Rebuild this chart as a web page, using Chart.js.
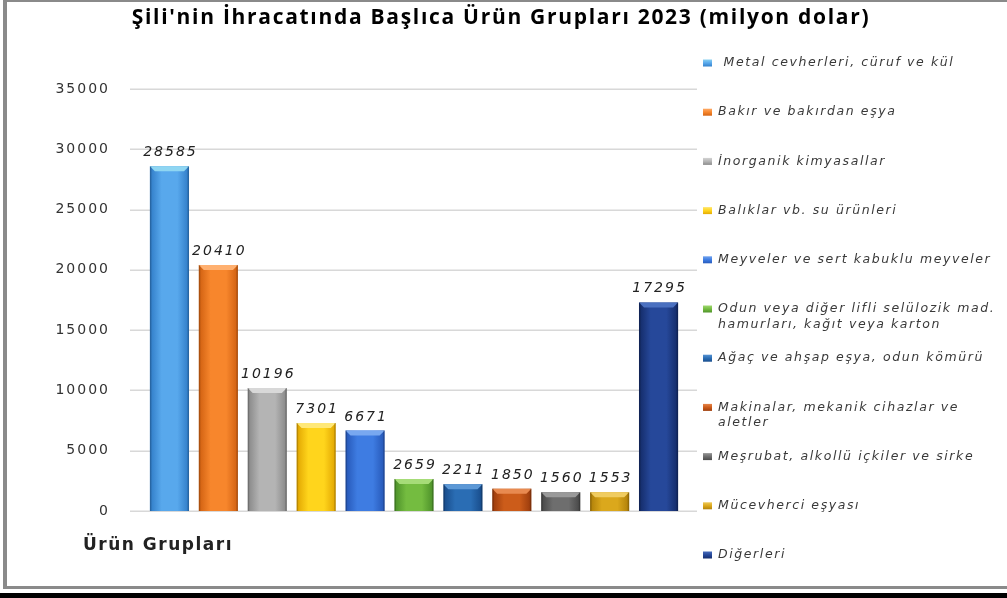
<!DOCTYPE html>
<html lang="tr">
<head>
<meta charset="utf-8">
<script src="https://cdn.jsdelivr.net/npm/chart.js@4.4.1/dist/chart.umd.min.js"></script>
<style>
  html, body { margin: 0; padding: 0; background: #fff; overflow: hidden; }
  #wrap { position: relative; width: 1007px; height: 598px; overflow: hidden; background: #fff; }
  .edge { position: absolute; background: #8a8a8a; }
  #edgeTop { left: 3px; top: 0; width: 1004px; height: 2px; }
  #edgeLeft { left: 3px; top: 0; width: 4px; height: 589px; }
  #edgeBottom { left: 3px; top: 586px; width: 1004px; height: 3px; }
  #blackbar { position: absolute; left: 0; top: 593px; width: 1007px; height: 5px; background: #000; }
  #chart { position: absolute; left: 0; top: 0; }
</style>
</head>
<body>
<div id="wrap">
  <div class="edge" id="edgeTop"></div>
  <div class="edge" id="edgeLeft"></div>
  <div class="edge" id="edgeBottom"></div>
  <div id="blackbar"></div>
  <canvas id="chart" width="1007" height="598"></canvas>
</div>
<script>
const titleText = "Şili'nin İhracatında Başlıca Ürün Grupları 2023 (milyon dolar)";
const xAxisTitle = 'Ürün Grupları';

const categories = [
  ' Metal cevherleri, cüruf ve kül',
  'Bakır ve bakırdan eşya',
  'İnorganik kimyasallar',
  'Balıklar vb. su ürünleri',
  'Meyveler ve sert kabuklu meyveler',
  ['Odun veya diğer lifli selülozik mad.', 'hamurları, kağıt veya karton'],
  'Ağaç ve ahşap eşya, odun kömürü',
  ['Makinalar, mekanik cihazlar ve', 'aletler'],
  'Meşrubat, alkollü içkiler ve sirke',
  'Mücevherci eşyası',
  'Diğerleri'
];

const values = [28585, 20410, 10196, 7301, 6671, 2659, 2211, 1850, 1560, 1553, 17295];

// centre / edge / top highlight
const barCenter = ['#58a8ec', '#f7862c', '#b4b4b4', '#ffd51c', '#3e7ce2', '#74bc40', '#2a6db4', '#cc5c1a', '#6e6e6e', '#dba81c', '#26489a'];
const barEdge = ['#2f7bc6', '#cf5f10', '#868686', '#e0a400', '#2556b6', '#4a8e28', '#174a88', '#983a0c', '#464646', '#ae7e08', '#132a66'];
const barTop = ['#8fd6f2', '#ffb070', '#d8d8d8', '#ffe878', '#78a8f0', '#a6dc78', '#5c98d6', '#e88a50', '#9a9a9a', '#f0cc60', '#4a70c0'];

const yMax = 35000;
const yStep = 5000;
const barPct = 0.8;

function barGradient(ctx) {
  const i = ctx.dataIndex;
  const chart = ctx.chart;
  const xs = chart.scales.x;
  if (!xs || !chart.chartArea) return barCenter[i];
  const cx = xs.getPixelForValue(i);
  const half = (xs.width / categories.length) * barPct / 2;
  if (!Number.isFinite(cx) || !Number.isFinite(half)) return barCenter[i];
  const g = chart.ctx.createLinearGradient(cx - half, 0, cx + half, 0);
  g.addColorStop(0, barEdge[i]);
  g.addColorStop(0.3, barCenter[i]);
  g.addColorStop(0.7, barCenter[i]);
  g.addColorStop(1, barEdge[i]);
  return g;
}

// light gridlines that reach a bit past the plot on both sides
const gridPlugin = {
  id: 'extGrid',
  beforeDraw(chart) {
    chart.ctx.letterSpacing = '2px';
  },
  beforeDatasetsDraw(chart) {
    const { ctx, chartArea, scales: { y } } = chart;
    ctx.letterSpacing = '0px';
    ctx.save();
    ctx.strokeStyle = '#d8d8d8';
    ctx.lineWidth = 1.5;
    y.ticks.forEach(t => {
      const py = Math.round(y.getPixelForValue(t.value)) + 0.25;
      ctx.beginPath();
      ctx.moveTo(chartArea.left - 15, py);
      ctx.lineTo(chartArea.right + 14, py);
      ctx.stroke();
    });
    ctx.restore();
  }
};

// bevel on top of each bar + value labels
const barDecorPlugin = {
  id: 'barDecor',
  afterDatasetsDraw(chart) {
    const { ctx } = chart;
    const meta = chart.getDatasetMeta(0);
    ctx.save();
    meta.data.forEach((el, i) => {
      const l = el.x - el.width / 2;
      const r = el.x + el.width / 2;
      const t = el.y;
      ctx.fillStyle = barTop[i];
      ctx.beginPath();
      ctx.moveTo(l, t);
      ctx.lineTo(r, t);
      ctx.lineTo(r - 5, t + 5);
      ctx.lineTo(l + 5, t + 5);
      ctx.closePath();
      ctx.fill();
      ctx.fillStyle = 'rgba(0,0,0,0.18)';
      ctx.fillRect(l, t, 1.5, el.base - t);
      ctx.fillRect(r - 1.5, t, 1.5, el.base - t);
    });
    ctx.letterSpacing = '2px';
    ctx.font = 'italic 14px "DejaVu Sans"';
    ctx.fillStyle = '#222';
    ctx.textAlign = 'center';
    ctx.textBaseline = 'alphabetic';
    meta.data.forEach((el, i) => {
      ctx.fillText(String(values[i]), el.x + 1, el.y - 10);
    });
    ctx.restore();
  }
};

// title, x-axis caption and the right-hand legend
const textPlugin = {
  id: 'texts',
  afterDraw(chart) {
    const { ctx, chartArea } = chart;
    ctx.save();
    ctx.letterSpacing = '1.7px';
    ctx.fillStyle = '#000';
    ctx.font = 'bold 21px "Open Sans"';
    ctx.textAlign = 'center';
    ctx.textBaseline = 'middle';
    ctx.fillText(titleText, 501, 18);

    ctx.letterSpacing = '1.5px';
    ctx.font = 'bold 17px "DejaVu Sans"';
    ctx.fillStyle = '#222';
    ctx.fillText(xAxisTitle, chartArea.left + 13, 546);

    ctx.textAlign = 'left';
    ctx.letterSpacing = '1.6px';
    ctx.font = 'italic 12.5px "DejaVu Sans"';
    const x0 = chartArea.right + 20;
    const firstY = 63;
    const stepY = 49.2;
    categories.forEach((c, i) => {
      const yy = firstY + i * stepY;
      const g = ctx.createLinearGradient(0, yy - 4, 0, yy + 4);
      g.addColorStop(0, barTop[i]);
      g.addColorStop(0.5, barCenter[i]);
      g.addColorStop(1, barEdge[i]);
      ctx.fillStyle = g;
      ctx.fillRect(x0, yy - 3.5, 9, 7);
      ctx.fillStyle = '#3a3a3a';
      const lines = Array.isArray(c) ? c : [c];
      lines.forEach((line, k) => {
        ctx.fillText(line, x0 + 15, yy + k * 15.5);
      });
    });
    ctx.restore();
  }
};

new Chart(document.getElementById('chart'), {
  type: 'bar',
  data: {
    labels: categories,
    datasets: [
      {
        data: values,
        backgroundColor: barGradient,
        borderWidth: 0,
        barPercentage: barPct,
        categoryPercentage: 1
      }
    ]
  },
  options: {
    responsive: false,
    animation: false,
    layout: {
      padding: { left: 0, top: 89, right: 324, bottom: 87 }
    },
    plugins: {
      legend: { display: false },
      title: { display: false },
      tooltip: { enabled: false }
    },
    scales: {
      x: {
        grid: { display: false },
        border: { display: false },
        ticks: { display: false },
        afterFit: s => { s.height = 0; }
      },
      y: {
        min: 0,
        max: yMax,
        grid: { display: false, drawTicks: false },
        border: { display: false },
        ticks: {
          stepSize: yStep,
          padding: 35,
          color: '#333',
          font: { family: 'DejaVu Sans', size: 14 },
          callback: v => String(v)
        },
        afterFit: s => { s.width = 145; }
      }
    }
  },
  plugins: [gridPlugin, barDecorPlugin, textPlugin]
});
</script>
</body>
</html>
